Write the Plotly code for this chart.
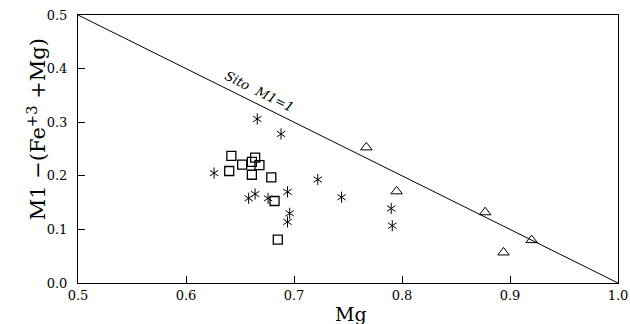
import plotly.graph_objects as go

# Squares
sq_x = [0.642, 0.664, 0.652, 0.661, 0.668, 0.640, 0.661, 0.679, 0.682, 0.685]
sq_y = [0.237, 0.234, 0.221, 0.226, 0.220, 0.209, 0.202, 0.197, 0.153, 0.081]
# Asterisks
st_x = [0.666, 0.688, 0.626, 0.658, 0.664, 0.676, 0.694, 0.722, 0.744, 0.696, 0.694, 0.790, 0.791]
st_y = [0.306, 0.278, 0.205, 0.158, 0.166, 0.158, 0.170, 0.193, 0.160, 0.130, 0.114, 0.139, 0.107]
# Triangles
tr_x = [0.767, 0.795, 0.877, 0.920, 0.894]
tr_y = [0.253, 0.171, 0.132, 0.080, 0.057]
# Reference line (Sito M1 = 1)
line_x = [0.5, 1.0]
line_y = [0.5, 0.0]

x_ticks = [0.5, 0.6, 0.7, 0.8, 0.9, 1.0]
y_ticks = [0.0, 0.1, 0.2, 0.3, 0.4, 0.5]

serif = "DejaVu Serif"

fig = go.Figure()
fig.add_trace(go.Scatter(x=line_x, y=line_y, mode="lines",
                         line=dict(color="black", width=1), hoverinfo="skip"))
fig.add_trace(go.Scatter(x=sq_x, y=sq_y, mode="markers",
                         marker=dict(symbol="square-open", size=9, color="black",
                                     line=dict(width=1.3, color="black"))))
fig.add_trace(go.Scatter(x=st_x, y=st_y, mode="markers",
                         marker=dict(symbol="y-up-open", size=7, color="black",
                                     line=dict(width=1, color="black"))))
fig.add_trace(go.Scatter(x=st_x, y=st_y, mode="markers",
                         marker=dict(symbol="y-down-open", size=7, color="black",
                                     line=dict(width=1, color="black"))))
fig.add_trace(go.Scatter(x=tr_x, y=tr_y, mode="markers",
                         marker=dict(symbol="triangle-up-open", size=10, color="black",
                                     line=dict(width=1, color="black"))))

axis_common = dict(showgrid=False, zeroline=False, showline=True, linecolor="black",
                   linewidth=1, mirror=True, ticks="inside", ticklen=7, automargin=False,
                   tickcolor="black", tickfont=dict(family=serif, size=13, color="black"))

fig.update_xaxes(range=[0.5, 1.0], tickvals=x_ticks,
                 ticktext=[f"{v:.1f}" for v in x_ticks], **axis_common)
fig.update_yaxes(range=[0.0, 0.5], tickvals=y_ticks, ticklabelstandoff=7,
                 ticktext=[f"{v:.1f}" for v in y_ticks], **axis_common)

fig.update_layout(
    width=630, height=324, autosize=False,
    margin=dict(l=78, r=12, t=15, b=41),
    paper_bgcolor="white", plot_bgcolor="white",
    showlegend=False,
    annotations=[
        dict(text="M1 \u2212(Fe<sup>+3</sup> +Mg)", xref="paper", yref="paper",
             x=-0.077, y=0.575, xanchor="center", yanchor="middle", textangle=-90,
             showarrow=False, font=dict(family=serif, size=21, color="black")),
        dict(text="Mg", xref="paper", yref="paper",
             x=0.505, y=-0.115, xanchor="center", yanchor="middle",
             showarrow=False, font=dict(family=serif, size=19, color="black")),
        dict(text="<i>Sito  M1=1</i>", x=0.668, y=0.358, xref="x", yref="y",
             textangle=26.4, showarrow=False,
             font=dict(family=serif, size=13, color="black")),
    ],
)

fig.write_html("out.html", config={"displayModeBar": False},
               post_script="document.body.style.margin='0';document.body.style.overflow='hidden';")
